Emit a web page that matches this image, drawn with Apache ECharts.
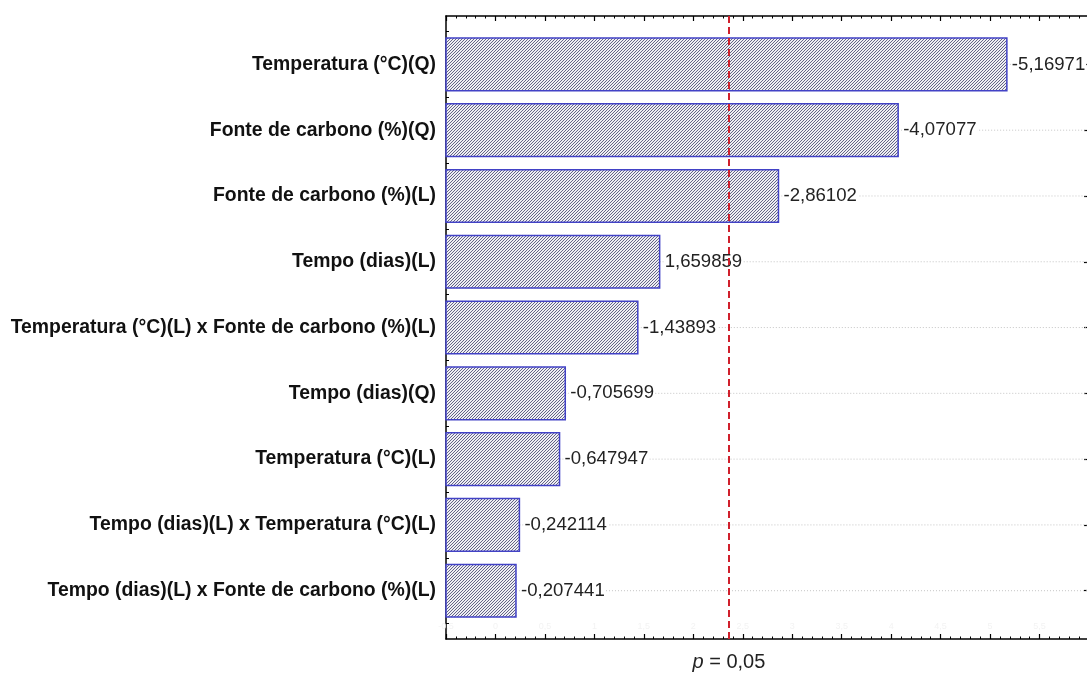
<!DOCTYPE html>
<html>
<head>
<meta charset="utf-8">
<script src="https://cdn.jsdelivr.net/npm/echarts@6/dist/echarts.min.js"></script>
<style>
  html, body { margin: 0; padding: 0; background: #fff; }
  #chart { width: 1087px; height: 673px; }
</style>
</head>
<body>
<div id="chart"></div>
<script>
// Effects, top to bottom (standardized estimates)
const effectNames = [
  'Temperatura (°C)(Q)',
  'Fonte de carbono (%)(Q)',
  'Fonte de carbono (%)(L)',
  'Tempo (dias)(L)',
  'Temperatura (°C)(L) x Fonte de carbono (%)(L)',
  'Tempo (dias)(Q)',
  'Temperatura (°C)(L)',
  'Tempo (dias)(L) x Temperatura (°C)(L)',
  'Tempo (dias)(L) x Fonte de carbono (%)(L)'
];
const effectValues = [-5.16971, -4.07077, -2.86102, 1.659859, -1.43893, -0.705699, -0.647947, -0.242114, -0.207441];
// critical t for p = 0.05
const criticalT = 2.364624;
const criticalLabel = 'p = 0,05';
const X_MIN = -0.5, X_MAX = 6, X_STEP = 0.5;

const FONT = "'Liberation Sans', Arial, sans-serif";

// diagonal hatch fill
function hatch() {
  const c = document.createElement('canvas');
  c.width = 6; c.height = 6;
  const g = c.getContext('2d');
  g.fillStyle = '#eeeef3';
  g.fillRect(0, 0, 6, 6);
  g.fillStyle = '#646486';
  for (let i = 0; i < 6; i++) {
    g.fillRect(i, 5 - i, 1, 1);
    g.fillRect(i, (8 - i) % 6, 1, 1);
  }
  return { image: c, repeat: 'repeat' };
}
const hatchFill = hatch();

const fmt = v => String(v).replace('.', ',');
const barData = effectValues.map((v, i) => [Math.abs(v), i]);

const chart = echarts.init(document.getElementById('chart'), null, { renderer: 'canvas' });

const tickAxis = (pos, labels) => ({
  type: 'value', gridIndex: 0, position: pos,
  min: X_MIN, max: X_MAX, interval: X_STEP,
  axisLine: { show: true, onZero: false, lineStyle: { color: '#000', width: 1.5 } },
  axisTick: { show: true, inside: true, length: 5, lineStyle: { color: '#000', width: 1.2 } },
  minorTick: { show: true, splitNumber: 5, length: 2.5, lineStyle: { color: '#000', width: 1 } },
  axisLabel: labels
    ? { show: true, inside: true, color: '#f3f3f3', fontSize: 9, fontFamily: FONT, formatter: v => fmt(v) }
    : { show: false },
  splitLine: { show: false }
});

chart.setOption({
  animation: false,
  backgroundColor: '#fff',
  grid: [
    { left: 446, width: 643, top: 16, bottom: 34, containLabel: false, outerBoundsMode: 'none' },
    { left: 446, width: 643, top: 31.5, bottom: 49.4, containLabel: false, outerBoundsMode: 'none' }
  ],
  xAxis: [
    tickAxis('bottom', true),
    tickAxis('top', false),
    { type: 'value', gridIndex: 1, min: X_MIN, max: X_MAX, show: false }
  ],
  yAxis: [
    {
      type: 'value', gridIndex: 0, min: 0, max: 1, position: 'left',
      axisLine: { show: true, onZero: false, lineStyle: { color: '#000', width: 1.5 } },
      axisTick: { show: false }, axisLabel: { show: false }, splitLine: { show: false }
    },
    {
      type: 'category', gridIndex: 1, data: effectNames, inverse: true, position: 'left',
      axisLine: { show: false, onZero: false },
      axisTick: { show: true, inside: true, alignWithLabel: true, length: 4, lineStyle: { color: '#000' } },
      axisLabel: { show: true, margin: 10, color: '#111', fontSize: 19.4, fontWeight: 'bold', fontFamily: FONT },
      splitLine: { show: false }
    },
    {
      type: 'category', gridIndex: 1, data: effectNames, inverse: true, position: 'left',
      axisLine: { show: false, onZero: false },
      axisTick: { show: true, inside: true, alignWithLabel: false, length: 3, lineStyle: { color: '#000' } },
      axisLabel: { show: false }, splitLine: { show: false }
    },
    {
      type: 'category', gridIndex: 1, data: effectNames, inverse: true, position: 'right',
      axisLine: { show: false, onZero: false },
      axisTick: { show: true, inside: true, alignWithLabel: true, length: 5, lineStyle: { color: '#000', width: 1.2 } },
      axisLabel: { show: false }, splitLine: { show: false }
    }
  ],
  series: [
    {
      type: 'custom',
      xAxisIndex: 2, yAxisIndex: 1,
      z: 2,
      encode: { x: 0, y: 1 },
      data: barData,
      renderItem: function (params, api) {
        const idx = api.value(1);
        const start = api.coord([X_MIN, idx]);
        const end = api.coord([api.value(0), idx]);
        const farEnd = api.coord([X_MAX, idx]);
        const h = api.size([0, 1])[1] * 0.8;
        return {
          type: 'group',
          children: [
            {
              type: 'line',
              shape: { x1: end[0], y1: end[1], x2: farEnd[0], y2: farEnd[1] },
              style: { stroke: '#c4c4c4', lineWidth: 1, lineDash: [1, 2] }
            },
            {
              type: 'rect',
              shape: { x: start[0], y: start[1] - h / 2, width: end[0] - start[0], height: h },
              style: { fill: hatchFill, stroke: '#4242c6', lineWidth: 1.5 }
            },
            {
              type: 'text',
              x: end[0] + 4, y: end[1],
              style: {
                text: fmt(effectValues[params.dataIndex]),
                fill: '#222', font: '18.6px ' + FONT,
                align: 'left', verticalAlign: 'middle',
                backgroundColor: '#fff', padding: [0, 1]
              }
            }
          ]
        };
      }
    },
    {
      type: 'line',
      xAxisIndex: 0, yAxisIndex: 0,
      z: 6,
      data: [],
      markLine: {
        silent: true,
        symbol: ['none', 'none'],
        lineStyle: { color: '#d0202c', type: [7, 4], width: 2 },
        label: {
          show: true, position: 'start', distance: 13,
          formatter: '{i|p} = 0,05',
          color: '#222', fontSize: 20, fontFamily: FONT,
          rich: { i: { fontStyle: 'italic', fontSize: 20, fontFamily: FONT, color: '#222' } }
        },
        data: [{ xAxis: criticalT, name: criticalLabel }]
      }
    }
  ]
});
</script>
</body>
</html>
